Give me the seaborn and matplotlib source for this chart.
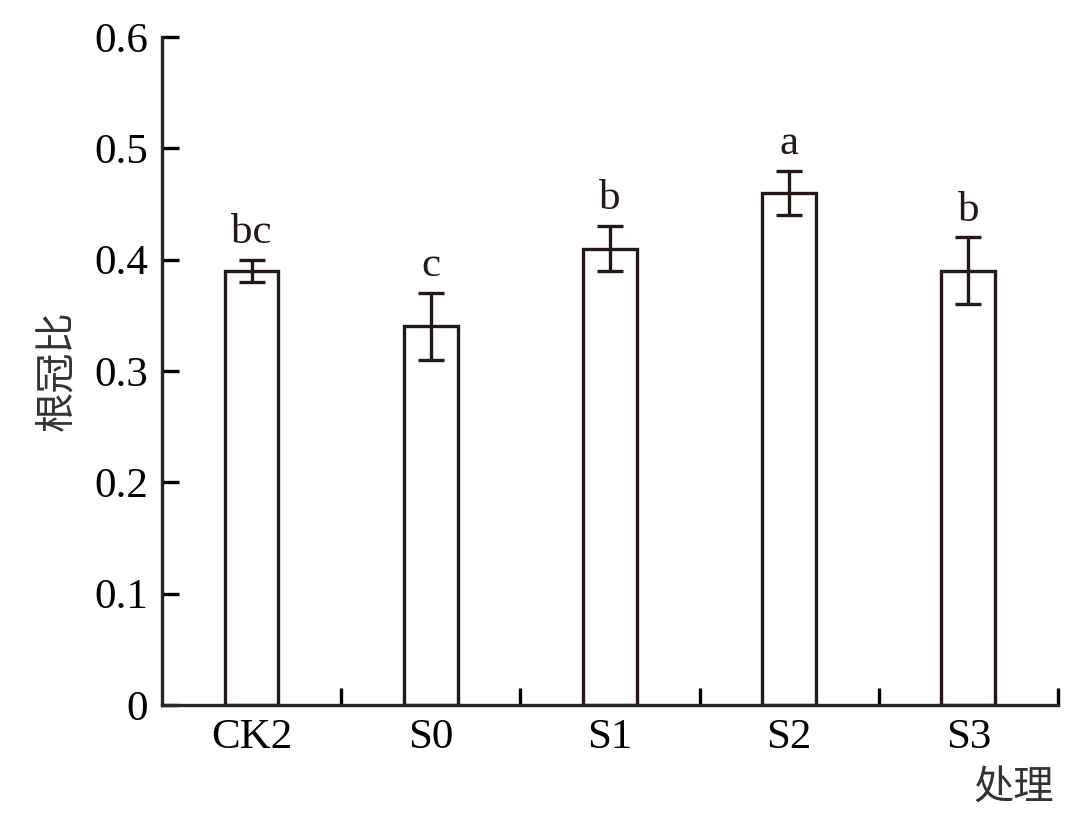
import numpy as np
import pandas as pd
import seaborn as sns
import matplotlib.pyplot as plt

# data
groups = ["CK2", "S0", "S1", "S2", "S3"]
ratio = [0.39, 0.34, 0.41, 0.46, 0.39]
err = [0.01, 0.03, 0.02, 0.02, 0.03]
letters = ["bc", "c", "b", "a", "b"]

sns.set_theme(style="ticks")
plt.rcParams['font.family'] = ['Liberation Serif', 'Noto Sans CJK SC']
plt.rcParams['axes.linewidth'] = 2.4

df = pd.DataFrame({"group": groups, "ratio": ratio})
line_col = "#231815"

fig = plt.figure(figsize=(10.84, 8.15), dpi=100)
ax = fig.add_axes([0.1494, 0.135, 0.8266, 0.8196])

sns.barplot(data=df, x="group", y="ratio", color="white", edgecolor=line_col,
            linewidth=2.4, width=0.3, errorbar=None, ax=ax)
ax.errorbar(np.arange(len(groups)), ratio, yerr=err, fmt="none",
            ecolor=line_col, elinewidth=2.4, capsize=9.5, capthick=2.4)

for i, (v, e, t) in enumerate(zip(ratio, err, letters)):
    ax.text(i, v + e + 0.007, t, ha="center", va="bottom", fontsize=31,
            color=line_col)

ax.set_xlim(-0.5, 4.5)
ax.set_ylim(0, 0.6)
ax.set_yticks(np.arange(0, 0.61, 0.1))
ax.set_yticklabels(["0", "0.1", "0.2", "0.3", "0.4", "0.5", "0.6"])
ax.set_xticks(np.arange(len(groups)))
ax.set_xticklabels(groups)
ax.set_xticks(np.arange(0.5, 4.6, 1), minor=True)
ax.tick_params(axis="x", which="major", length=0, labelsize=31, pad=10,
               colors="black")
ax.tick_params(axis="x", which="minor", direction="in", length=12, width=2.4,
               color="black")
ax.tick_params(axis="y", direction="in", length=12, width=2.4, labelsize=31,
               pad=10, colors="black")

sns.despine(ax=ax, top=True, right=True)
ax.set_xlabel("")
ax.set_ylabel("根冠比", fontsize=29, family=['Noto Sans CJK SC'], labelpad=12,
              color="#333333")
fig.text(0.935, 0.034, "处理", fontsize=29, family=['Noto Sans CJK SC'],
         ha="center", va="center", color="#333333")

fig.savefig("out.png", dpi=100)
